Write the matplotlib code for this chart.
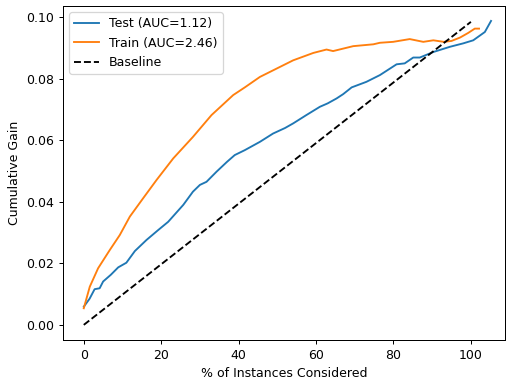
import matplotlib
matplotlib.use("Agg")
import matplotlib.pyplot as plt

# values
test_x = [0, 1.5, 2.8, 4.1, 5, 7, 8.9, 11, 13.2, 16.2, 19.2, 21.8, 25.7, 28.2, 30, 31.7,
          34.3, 37, 39, 41.6, 45.5, 48.9, 52, 54.1, 57.5, 61, 63, 65.3, 67, 69.2, 73,
          76.5, 80.8, 82.9, 85.1, 86.8, 90.3, 94.6, 98, 100.6, 103.6, 105.2]
test_y = [0.0059, 0.0085, 0.0116, 0.0119, 0.0141, 0.0163, 0.0187, 0.0202, 0.024, 0.0276,
          0.0308, 0.0335, 0.039, 0.0433, 0.0455, 0.0465, 0.0498, 0.053, 0.0552, 0.0568,
          0.0595, 0.0622, 0.064, 0.0655, 0.0682, 0.0709, 0.072, 0.0736, 0.075, 0.0772,
          0.079, 0.0812, 0.0847, 0.085, 0.0869, 0.0869, 0.0887, 0.0904, 0.0915, 0.0925,
          0.0952, 0.0988]
train_x = [0, 1.55, 3.7, 6.7, 9.3, 11.9, 15.3, 18.8, 23.1, 28.2, 33, 38.6, 41.6, 45.5,
           49.8, 54.1, 59.3, 62.7, 64.4, 69.6, 74.8, 76.5, 79.9, 84.2, 87.7, 90.3, 93,
           95, 97.2, 99.3, 101, 102.1]
train_y = [0.0054, 0.0124, 0.0184, 0.0243, 0.0292, 0.0352, 0.0411, 0.0471, 0.0541,
           0.0611, 0.0682, 0.0747, 0.0772, 0.0806, 0.0833, 0.086, 0.0884, 0.0895, 0.089,
           0.0906, 0.0912, 0.0917, 0.092, 0.0929, 0.092, 0.0925, 0.092, 0.0923, 0.0934,
           0.0949, 0.0963, 0.0963]
base_x = [0, 100]
base_y = [0, 0.0985]

# reference looks like a default figure drawn at a slightly lower dpi
fig = plt.figure(figsize=(507 / 90, 385 / 90), dpi=90)
ax = fig.add_axes([0.124, 0.117, 0.872, 0.867])

ax.plot(test_x, test_y, label="Test (AUC=1.12)")
ax.plot(train_x, train_y, label="Train (AUC=2.46)")
ax.plot(base_x, base_y, "k--", label="Baseline")

ax.set_xlim(-5.4, 108.8)
ax.set_ylim(-0.0049, 0.1036)
ax.set_xlabel("% of Instances Considered")
ax.set_ylabel("Cumulative Gain")
ax.legend(loc="upper left")

fig.savefig("out.png", dpi=90)
